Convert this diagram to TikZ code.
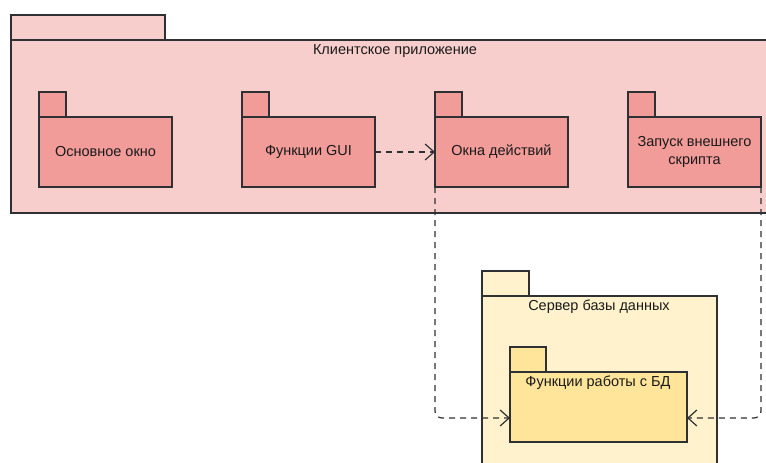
\documentclass[tikz,border=0pt]{standalone}
\usepackage{fontspec}
\setmainfont{Liberation Sans}
\usetikzlibrary{arrows.meta,calc}

\definecolor{edge}{HTML}{2F3033}
\definecolor{clientfill}{HTML}{F8CECC}
\definecolor{modfill}{HTML}{F19C99}
\definecolor{serverfill}{HTML}{FFF2CC}
\definecolor{dbfill}{HTML}{FFE599}
\definecolor{ink}{HTML}{1A1A1A}

\tikzset{
  label font/.style={font=\fontsize{14.5}{17.5}\selectfont, text=ink},
  pkg/.style={draw=edge, line width=1.2pt, inner sep=0pt, outer sep=0pt,
    label font, align=center},
  modbody/.style={pkg, fill=modfill, minimum width=133pt, minimum height=70pt, anchor=north west},
  modtab/.style={pkg, fill=modfill, minimum width=27pt, minimum height=25pt, anchor=south west},
  dep/.style={draw=edge, line width=1.2pt, dash pattern=on 6pt off 5pt,
    rounded corners=7pt, -{Straight Barb[length=9pt,width=16pt,line width=1.2pt]}},
}

\begin{document}
\begin{tikzpicture}[x=1pt,y=-1pt]
  \useasboundingbox (0,0) rectangle (766,463);
  \clip (0,0) rectangle (766,463);

  % client application package
  \node[pkg, fill=clientfill, minimum width=154pt, minimum height=25pt, anchor=north west] (clienttab) at (11,15) {};
  \node[pkg, fill=clientfill, minimum width=800pt, minimum height=173pt, anchor=north west] (client) at (11,40) {};
  \node[label font] (clienttitle) at (395,51) {Клиентское приложение};

  % modules of the client
  \node[modbody] (mainwin) at (39,117) {Основное окно};
  \node[modtab] (mainwintab) at (mainwin.north west) {};
  \node[modbody] (gui) at (242,117) {Функции GUI};
  \node[modtab] (guitab) at (gui.north west) {};
  \node[modbody] (actions) at (435,117) {Окна действий};
  \node[modtab] (actionstab) at (actions.north west) {};
  \node[modbody] (script) at (628,117) {Запуск внешнего\\скрипта};
  \node[modtab] (scripttab) at (script.north west) {};

  % database server package
  \node[pkg, fill=serverfill, minimum width=47pt, minimum height=25pt, anchor=north west] (servertab) at (482,271) {};
  \node[pkg, fill=serverfill, minimum width=235pt, minimum height=220pt, anchor=north west] (server) at (482,296) {};
  \node[label font] (servertitle) at (599,307) {Сервер базы данных};

  \node[pkg, fill=dbfill, minimum width=177pt, minimum height=70pt, anchor=north west] (db) at (510,372) {};
  \node[pkg, fill=dbfill, minimum width=36pt, minimum height=25pt, anchor=south west] (dbtab) at (db.north west) {};
  \node[label font] (dbtitle) at (598,383) {Функции работы с БД};

  % dependencies
  \coordinate (dbleft) at ([yshift=24pt]db.south west);
  \coordinate (dbright) at ([yshift=24pt]db.south east);
  \draw[dep] (gui.east) -- (actions.west);
  \draw[dep] (actions.south west) |- (dbleft);
  \draw[dep] (script.south east) |- (dbright);
\end{tikzpicture}
\end{document}
